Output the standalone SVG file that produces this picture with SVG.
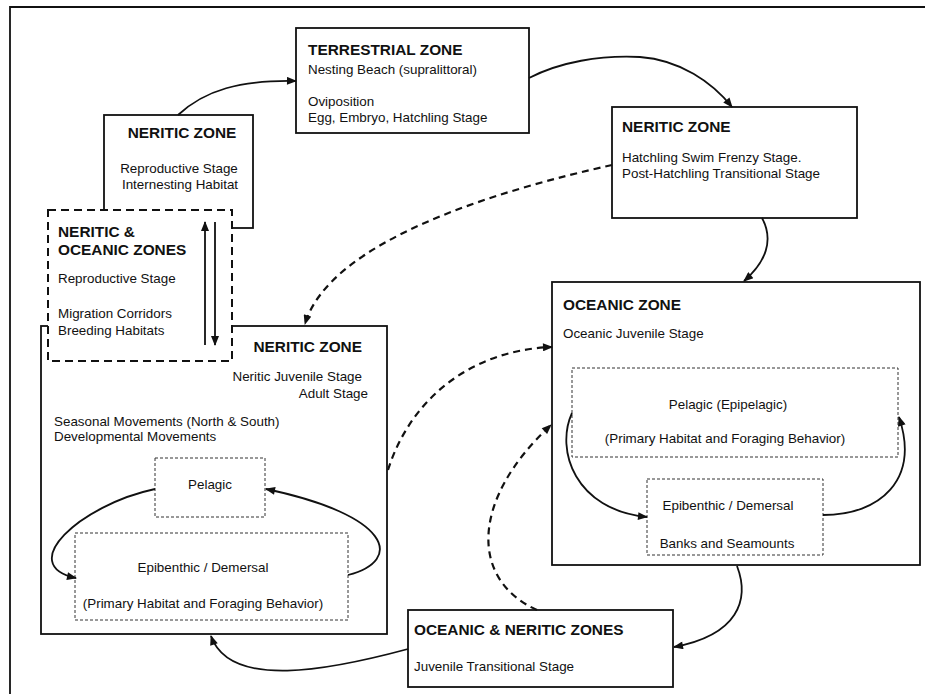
<svg xmlns="http://www.w3.org/2000/svg" width="925" height="694" viewBox="0 0 925 694">
<style>
text{font-family:"Liberation Sans",Arial,sans-serif;fill:#111;}
.h{font-size:15.4px;font-weight:bold;}
.b{font-size:13.4px;}
.c{text-anchor:middle;}
.e{text-anchor:end;}
.box{fill:#fff;stroke:#111;stroke-width:1.8;}
.dbox{fill:#fff;stroke:#111;stroke-width:2;stroke-dasharray:8,5;}
.ibox{fill:none;stroke:#333;stroke-width:1;stroke-dasharray:3,2;}
.ln{fill:none;stroke:#111;stroke-width:1.8;}
.dl{fill:none;stroke:#111;stroke-width:2.2;stroke-dasharray:7,5;}
</style>
<defs>
<marker id="ah" viewBox="0 0 10 8" refX="9" refY="4" markerWidth="11" markerHeight="8" markerUnits="userSpaceOnUse" orient="auto">
<path d="M0,0 L10,4 L0,8 Z" fill="#111"/>
</marker>
</defs>
<rect width="925" height="694" fill="#fff"/>
<path d="M10,694 L10,7 L925,7" fill="none" stroke="#111" stroke-width="1.8"/>

<g id="neritic-adult">
<rect class="box" x="41" y="326" width="346" height="308"/>
<text class="h e" x="362" y="352">NERITIC ZONE</text>
<text class="b e" x="362" y="381">Neritic Juvenile Stage</text>
<text class="b e" x="368" y="398">Adult Stage</text>
<text class="b" x="54" y="426">Seasonal Movements (North &amp; South)</text>
<text class="b" x="54" y="441">Developmental Movements</text>
</g>
<g id="neritic-pelagic">
<rect class="ibox" x="155" y="458" width="110" height="59"/>
<text class="b c" x="210" y="489">Pelagic</text>
</g>
<g id="neritic-epibenthic">
<rect class="ibox" x="75" y="533" width="273" height="87"/>
<text class="b c" x="203" y="572">Epibenthic / Demersal</text>
<text class="b c" x="203" y="608">(Primary Habitat and Foraging Behavior)</text>
</g>

<g id="neritic-reproductive">
<rect class="box" x="104" y="115" width="149" height="113"/>
<text class="h c" x="182" y="138">NERITIC ZONE</text>
<text class="b c" x="179" y="173">Reproductive Stage</text>
<text class="b c" x="180" y="189">Internesting Habitat</text>
</g>

<g id="neritic-oceanic-reproductive">
<rect class="dbox" x="48" y="210" width="184" height="151"/>
<text class="h" x="58" y="237">NERITIC &amp;</text>
<text class="h" x="58" y="255">OCEANIC ZONES</text>
<text class="b" x="58" y="283">Reproductive Stage</text>
<text class="b" x="58" y="318">Migration Corridors</text>
<text class="b" x="58" y="335">Breeding Habitats</text>
</g>

<g id="terrestrial">
<rect class="box" x="296" y="28" width="233" height="105"/>
<text class="h" x="308" y="55">TERRESTRIAL ZONE</text>
<text class="b" x="308" y="74">Nesting Beach (supralittoral)</text>
<text class="b" x="308" y="106">Oviposition</text>
<text class="b" x="308" y="122">Egg, Embryo, Hatchling Stage</text>
</g>

<g id="neritic-hatchling">
<rect class="box" x="612" y="107" width="245" height="111"/>
<text class="h" x="622" y="132">NERITIC ZONE</text>
<text class="b" x="622" y="162">Hatchling Swim Frenzy Stage.</text>
<text class="b" x="622" y="178">Post-Hatchling Transitional Stage</text>
</g>

<g id="oceanic">
<rect class="box" x="552" y="282" width="368" height="283"/>
<text class="h" x="563" y="310">OCEANIC ZONE</text>
<text class="b" x="563" y="338">Oceanic Juvenile Stage</text>
</g>
<g id="oceanic-pelagic">
<rect class="ibox" x="572" y="368" width="326" height="89"/>
<text class="b c" x="728" y="409">Pelagic (Epipelagic)</text>
<text class="b c" x="725" y="443">(Primary Habitat and Foraging Behavior)</text>
</g>
<g id="oceanic-epibenthic">
<rect class="ibox" x="647" y="479" width="176" height="76"/>
<text class="b c" x="728" y="510">Epibenthic / Demersal</text>
<text class="b c" x="727" y="548">Banks and Seamounts</text>
</g>

<g id="oceanic-neritic">
<rect class="box" x="408" y="610" width="265" height="77"/>
<text class="h" x="414" y="635">OCEANIC &amp; NERITIC ZONES</text>
<text class="b" x="414" y="671">Juvenile Transitional Stage</text>
</g>

<g id="connectors">
<path class="ln" d="M178,115 C205,90 240,80 296,81" marker-end="url(#ah)"/>
<path class="ln" d="M529,78 C560,62 600,55 640,57 C680,60 712,82 732,107" marker-end="url(#ah)"/>
<path class="ln" d="M762,218 C774,240 766,262 744,281" marker-end="url(#ah)"/>
<path class="dl" d="M612,165 C500,190 330,240 305,324" marker-end="url(#ah)"/>
<path class="dl" d="M388,470 C410,400 470,350 552,347" marker-end="url(#ah)"/>
<path class="dl" d="M537,610 C470,580 470,500 551,425" marker-end="url(#ah)"/>
<path class="ln" d="M737,566 C750,600 738,635 674,647" marker-end="url(#ah)"/>
<path class="ln" d="M408,649 C330,670 230,690 211,636" marker-end="url(#ah)"/>
<path class="ln" d="M205,345 L205,222" marker-end="url(#ah)"/>
<path class="ln" d="M215,222 L215,345" marker-end="url(#ah)"/>
<path class="ln" d="M155,489 C80,505 15,565 76,578" marker-end="url(#ah)"/>
<path class="ln" d="M348,575 C405,560 390,515 266,489" marker-end="url(#ah)"/>
<path class="ln" d="M572,413 C555,450 575,510 647,517" marker-end="url(#ah)"/>
<path class="ln" d="M823,515 C880,515 920,480 899,417" marker-end="url(#ah)"/>
</g>
</svg>
